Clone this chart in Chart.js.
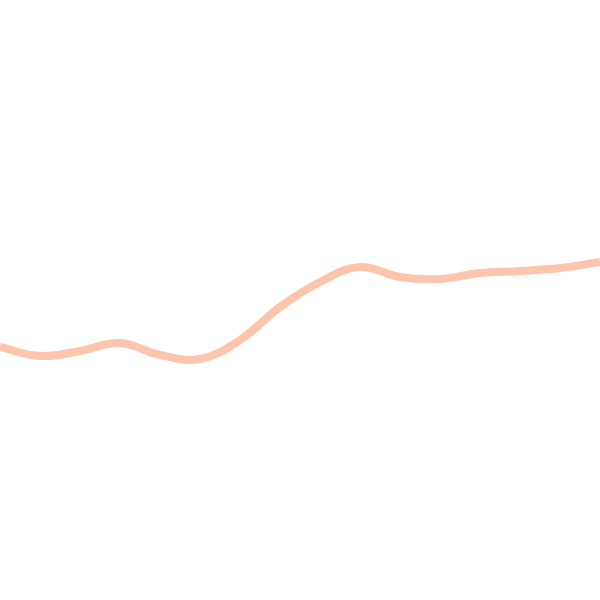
<!DOCTYPE html>
<html>
<head>
<meta charset="utf-8">
<script src="https://cdn.jsdelivr.net/npm/chart.js@4.4.1/dist/chart.umd.min.js"></script>
<style>
  html, body { margin: 0; padding: 0; background: #fff; overflow: hidden; }
  #box { width: 600px; height: 600px; }
</style>
</head>
<body>
<div id="box"><canvas id="c"></canvas></div>
<script>
// sparkline
const labels = ['1','2','3','4','5','6','7','8','9','10','11','12','13','14','15','16'];
const values = [253, 244, 249, 257, 245, 241, 260, 293, 318, 333, 323, 321, 327, 329, 332, 338];
const yMin = 0;
const yMax = 600;

const ctx = document.getElementById('c').getContext('2d');
new Chart(ctx, {
    type: 'line',
    data: {
        labels: labels,
        datasets: [{
            data: values,
            borderColor: '#fdc5ab',
            borderWidth: 8,
            pointRadius: 0,
            tension: 0.4,
            fill: false
        }]
    },
    options: {
        responsive: true,
        maintainAspectRatio: false,
        animation: false,
        layout: { padding: 0 },
        plugins: { legend: { display: false }, tooltip: { enabled: false } },
        scales: {
            x: { display: false, offset: false },
            y: { display: false, min: yMin, max: yMax }
        }
    }
});
</script>
</body>
</html>
